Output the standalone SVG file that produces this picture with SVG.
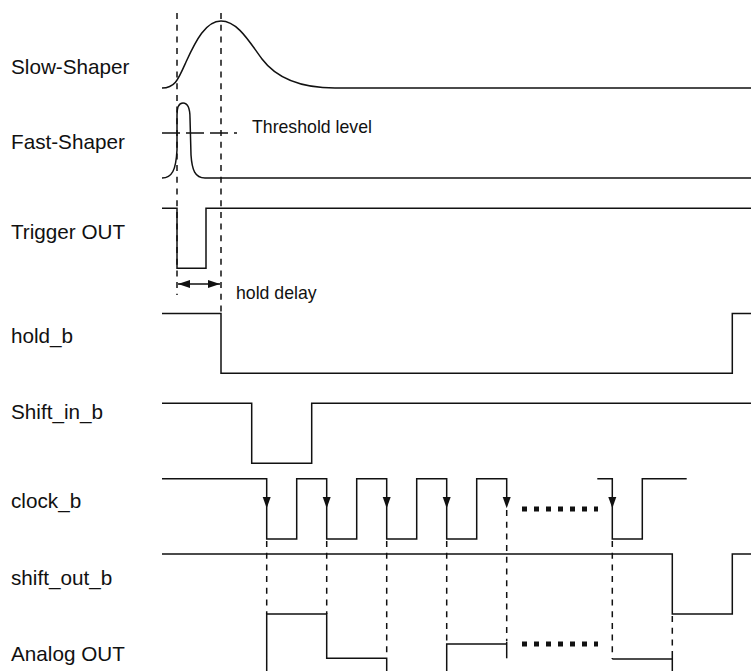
<svg xmlns="http://www.w3.org/2000/svg" width="751" height="671" viewBox="0 0 751 671">
<defs>
<style>
.lbl{font-family:"Liberation Sans",Arial,Helvetica,sans-serif;font-size:20.7px;fill:#111}
.sm{font-family:"Liberation Sans",Arial,Helvetica,sans-serif;font-size:17.7px;fill:#111}
.w{fill:none;stroke:#111;stroke-width:1.5;stroke-linejoin:miter}
.d{fill:none;stroke:#111;stroke-width:1.5;stroke-dasharray:6 5.7}
.th{fill:none;stroke:#111;stroke-width:1.5;stroke-dasharray:18 6}
.dots{fill:none;stroke:#111;stroke-width:5;stroke-dasharray:5 7}
.ah{fill:#111;stroke:none}
</style>
<marker id="arr" viewBox="0 0 12 8" refX="12" refY="4" markerWidth="12" markerHeight="8" markerUnits="userSpaceOnUse" orient="auto-start-reverse">
<path d="M0,0 L12,4 L0,8 Z" fill="#111"/>
</marker>
</defs>
<rect width="751" height="671" fill="#fff"/>

<g id="slow-shaper">
<text class="lbl" x="11" y="74">Slow-Shaper</text>
<path class="w" d="M162,88 C175,88 178,80 186,62 C196,40 206,21 221,21 C238,21 250,43 262,59 C271,71 290,88 335,88 H751"/>
</g>

<g id="fast-shaper">
<text class="lbl" x="11" y="149">Fast-Shaper</text>
<path class="w" d="M162,178 C172,178 176,170 177,150 L177,115 C177,106 179,103 183,103 C188,103 190,108 190,118 L191,155 C192,170 195,178 205,178 H751"/>
<path class="th" d="M162,133 H237"/>
<text class="sm" x="252" y="133.3">Threshold level</text>
</g>

<g id="trigger-out">
<text class="lbl" x="11" y="239">Trigger OUT</text>
<path class="w" d="M162,208.3 H177 V268.3 H206 V208.3 H751"/>
</g>

<g id="hold-b">
<text class="lbl" x="11" y="343">hold_b</text>
<path class="w" d="M162,313.5 H221 V373.3 H732.3 V313.5 H751"/>
</g>

<g id="shift-in-b">
<text class="lbl" x="11" y="419">Shift_in_b</text>
<path class="w" d="M162,403.3 H251.7 V463.3 H311.7 V403.3 H751"/>
</g>

<g id="clock-b">
<text class="lbl" x="11" y="508">clock_b</text>
<path class="w" d="M162,478.7 H266.7 V539 H296.7 V478.7 H326.7 V539 H356.7 V478.7 H386.7 V539 H416.7 V478.7 H446.7 V539 H476.7 V478.7 H506.7 V500"/>
<path class="w" d="M597.3,478.7 H612.3 V539 H642.3 V478.7 H686.7"/>
<path class="dots" d="M522,509 H598"/>
<g class="ah">
<path d="M262.7,497 L270.7,497 L266.7,508.3 Z"/>
<path d="M322.7,497 L330.7,497 L326.7,508.3 Z"/>
<path d="M382.7,497 L390.7,497 L386.7,508.3 Z"/>
<path d="M442.7,497 L450.7,497 L446.7,508.3 Z"/>
<path d="M502.7,497 L510.7,497 L506.7,508.3 Z"/>
<path d="M608.3,497 L616.3,497 L612.3,508.3 Z"/>
</g>
</g>

<g id="shift-out-b">
<text class="lbl" x="11" y="585">shift_out_b</text>
<path class="w" d="M162,554 H672.3 V614 H732.3 V554 H751"/>
</g>

<g id="analog-out">
<text class="lbl" x="11" y="661">Analog OUT</text>
<path class="w" d="M266.7,671 V614 H326.7 V658.3 H386.7 V671"/>
<path class="w" d="M446.7,671 V644 H506.7"/>
<path class="w" d="M506.7,641.7 V658.3"/>
<path class="w" d="M612.3,659 H672.3"/>
<path class="w" d="M672.3,657 V671"/>
<path class="dots" d="M522,644 H598"/>
</g>

<g id="connectors">
<path class="d" d="M177,13 V295"/>
<path class="d" d="M221,13 V313"/>
<path class="w" d="M178,284 H220" marker-start="url(#arr)" marker-end="url(#arr)"/>
<text class="sm" x="236" y="299.3">hold delay</text>
<path class="d" d="M266.7,541 V614"/>
<path class="d" d="M326.7,541 V614"/>
<path class="d" d="M386.7,541 V658"/>
<path class="d" d="M446.7,541 V644"/>
<path class="d" d="M506.7,510 V641"/>
<path class="d" d="M612.3,541 V659"/>
<path class="d" d="M672.3,616 V657"/>
</g>
</svg>
